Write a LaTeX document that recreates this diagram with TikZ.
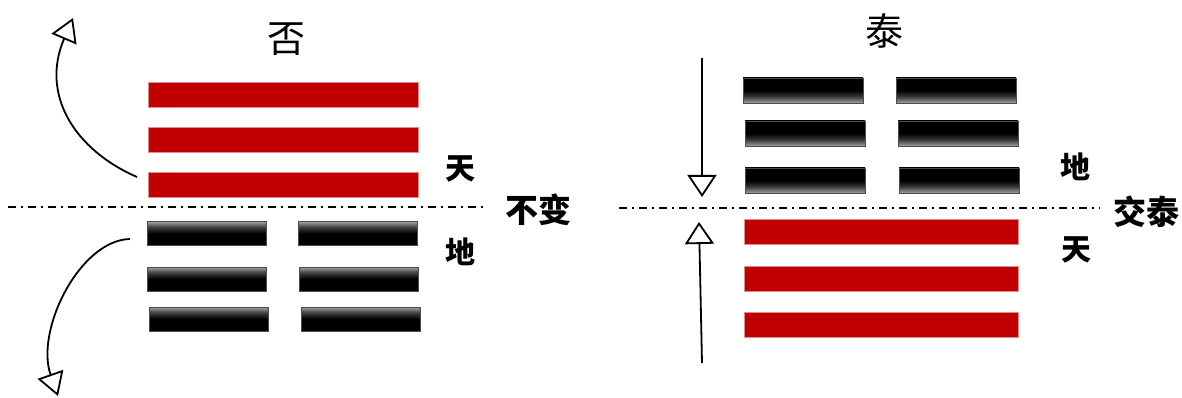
\documentclass[tikz,border=0pt]{standalone}
\usepackage{fontspec}
\newfontfamily\cjk{Noto Sans CJK SC}
\usetikzlibrary{arrows.meta}
\definecolor{barred}{HTML}{C00000}
\pgfdeclareverticalshading{barA}{100bp}{color(0bp)=(black); color(25bp)=(black); color(50bp)=(black); color(62bp)=(black!78); color(71bp)=(black!50); color(75bp)=(black!35); color(100bp)=(black!35)}
\pgfdeclareverticalshading{barB}{100bp}{color(0bp)=(black!35); color(25bp)=(black!35); color(29bp)=(black!50); color(38bp)=(black!78); color(50bp)=(black); color(100bp)=(black)}
\begin{document}
\begin{tikzpicture}[x=1pt,y=-1pt,
  redbar/.style={rectangle, inner sep=0pt, minimum height=25pt, fill=barred, draw=barred!45!white, line width=0.5pt},
  blkA/.style={rectangle, inner sep=0pt, minimum width=119pt, minimum height=24pt, shading=barA, draw=black!70, line width=0.9pt},
  blkB/.style={rectangle, inner sep=0pt, minimum width=120pt, minimum height=25pt, shading=barB, draw=black!70, line width=0.9pt},
  axis/.style={line width=1.5pt, dash pattern=on 8pt off 5pt on 2pt off 5pt},
  title/.style={font=\cjk\fontsize{38pt}{38pt}\selectfont, inner sep=0pt},
  lab/.style={font=\cjk\bfseries\fontsize{30pt}{30pt}\selectfont, inner sep=0pt},
  arr/.style={line width=1.8pt, -{Triangle[open, length=23pt, width=27pt, line width=1.8pt]}},
  varr/.style={line width=1.8pt, -{Triangle[open, length=22pt, width=29pt, line width=1.8pt]}}
]
\useasboundingbox (0,0) rectangle (1182,398);
% ---- left: Pi
\node[title] (tPi) at (286,39) {否};
\node[redbar, minimum width=270pt] (p1) at (283,94.5) {};
\node[redbar, minimum width=270pt] (p2) at (283,139.5) {};
\node[redbar, minimum width=270pt] (p3) at (283,184.5) {};
\node[blkA] (p4l) at (206.5,233.5) {};
\node[blkA] (p4r) at (357.5,233.5) {};
\node[blkA] (p5l) at (206.5,279) {};
\node[blkA] (p5r) at (358.5,279) {};
\node[blkA] (p6l) at (208.5,319) {};
\node[blkA] (p6r) at (360.5,319) {};
\node[lab] (ltian) at (460,169) {天};
\node[lab] (ldi) at (460,252) {地};
\node[font=\cjk\bfseries\fontsize{33pt}{33pt}\selectfont, inner sep=0pt] (bubian) at (538,210) {不变};
\coordinate (la0) at (8,207);
\coordinate (la1) at (487,207);
\draw[axis] (la0) -- (la1);
\coordinate (c1s) at (137,177);
\coordinate (c1e) at (73,18);
\draw[arr] (c1s) .. controls (75,150) and (40,95) .. (c1e);
\coordinate (c2s) at (130,239);
\coordinate (c2e) at (58,396);
\draw[arr] (c2s) .. controls (80,240) and (35,330) .. (c2e);
% ---- right: Tai
\node[title] (tTai) at (884,31) {泰};
\node[blkB] (t1l) at (803,90.5) {};
\node[blkB] (t1r) at (956,90.5) {};
\node[blkB] (t2l) at (805,133.5) {};
\node[blkB] (t2r) at (958,133.5) {};
\node[blkB] (t3l) at (805,180.5) {};
\node[blkB] (t3r) at (959,180.5) {};
\node[redbar, minimum width=274pt] (t4) at (881,231.5) {};
\node[redbar, minimum width=274pt] (t5) at (881,278.5) {};
\node[redbar, minimum width=274pt] (t6) at (881,325) {};
\node[lab] (rdi) at (1075,167) {地};
\node[lab] (rtian) at (1076,250) {天};
\node[font=\cjk\bfseries\fontsize{33pt}{33pt}\selectfont, inner sep=0pt] (jiaotai) at (1146,212) {交泰};
\coordinate (ra0) at (619,208);
\coordinate (ra1) at (1100,208);
\draw[axis] (ra0) -- (ra1);
\coordinate (d0) at (702,58);
\coordinate (d1) at (702,197);
\draw[varr] (d0) -- (d1);
\coordinate (u0) at (702,363);
\coordinate (u1) at (699,222);
\draw[varr] (u0) -- (u1);
\end{tikzpicture}
\end{document}
